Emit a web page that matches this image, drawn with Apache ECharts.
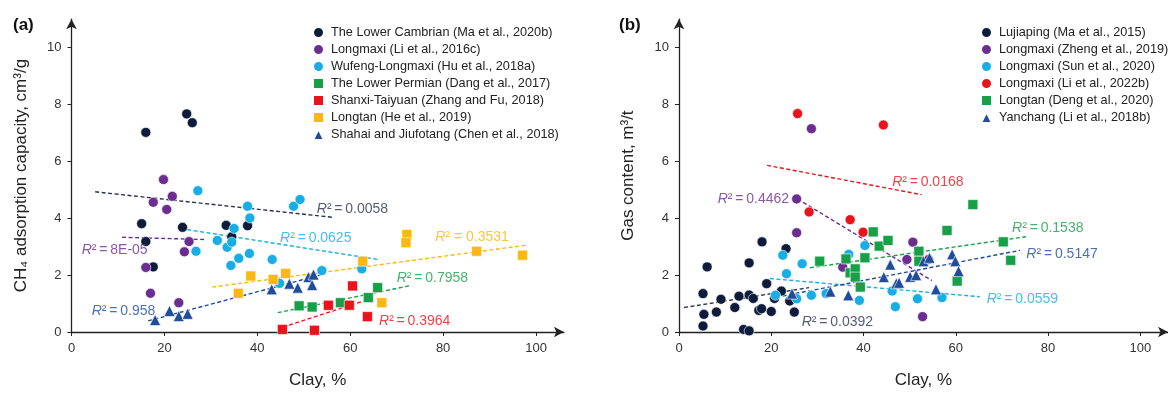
<!DOCTYPE html>
<html><head><meta charset="utf-8">
<script src="https://cdn.jsdelivr.net/npm/echarts@6/dist/echarts.min.js"></script>
<style>html,body{margin:0;padding:0;background:#fff}#c{width:1168px;height:394px}</style>
</head><body><div id="c"></div>
<script>
// ---------- Panel (a) data ----------
const lowerCambrian = [[16.0,7.02],[24.8,7.67],[26.0,7.36],[15.1,3.81],[16.0,3.18],[17.6,2.29],[23.9,3.68],[33.3,3.75],[34.5,3.35],[37.9,3.74]];
const longmaxiLi2016 = [[19.8,5.36],[21.7,4.77],[17.6,4.56],[20.5,4.31],[25.3,3.18],[24.3,2.82],[16.0,2.27],[17.0,1.36],[23.1,1.03]];
const wufengLongmaxi = [[27.2,4.97],[37.9,4.42],[38.4,4.01],[35.0,3.64],[31.4,3.22],[33.5,2.98],[34.5,3.16],[26.8,2.84],[38.3,2.76],[36.0,2.59],[34.3,2.34],[43.2,2.55],[44.8,1.71],[47.8,4.42],[49.2,4.66],[53.9,2.16],[62.5,2.22]];
const lowerPermian = [[49.0,0.92],[51.8,0.88],[57.9,1.03],[63.9,1.21],[65.9,1.56]];
const shanxiTaiyuan = [[45.4,0.09],[52.3,0.06],[55.3,0.94],[59.8,0.94],[60.5,1.62],[63.7,0.54]];
const longtanHe = [[35.9,1.36],[38.6,1.97],[43.4,1.85],[46.1,2.06],[62.7,2.49],[66.8,1.03],[72.2,3.43],[72.0,3.14],[87.2,2.84],[97.1,2.70]];
const shahai = [[18.0,0.42],[21.1,0.74],[23.1,0.56],[25.0,0.64],[43.1,1.50],[46.9,1.70],[48.7,1.56],[51.0,1.93],[51.8,1.65],[52.1,2.02]];

const trendA = {
  lowerCambrian: [[5.1,4.93],[56.4,4.03]],
  longmaxiLi2016: [[10.9,3.33],[29.1,3.25]],
  wufengLongmaxi: [[24.9,3.60],[66.0,2.55]],
  lowerPermian: [[44.4,0.68],[73.2,1.64]],
  shanxiTaiyuan: [[45.5,0.17],[65.2,1.21]],
  longtanHe: [[30.3,1.58],[97.8,3.05]],
  shahai: [[16.5,0.39],[54.6,2.05]]
};
// R² labels: [x, y, text]
const r2A = {
  lowerCambrian: [52.8,4.31,'\u2009=\u20090.0058'],
  longmaxiLi2016: [2.2,2.87,'\u2009=\u20098E-05'],
  wufengLongmaxi: [44.9,3.31,'\u2009=\u20090.0625'],
  lowerPermian: [70.0,1.91,'\u2009=\u20090.7958'],
  shanxiTaiyuan: [66.2,0.39,'\u2009=\u20090.3964'],
  longtanHe: [78.3,3.35,' = 0.3531'],
  shahai: [4.35,0.74,'\u2009=\u20090.958']
};

// ---------- Panel (b) data ----------
const lujiaping = [[5.2,1.35],[6.1,2.29],[5.4,0.62],[5.2,0.21],[8.1,0.70],[9.1,1.15],[12.1,0.86],[13.0,1.26],[14.0,0.09],[15.2,0.04],[15.2,2.43],[15.2,1.30],[16.1,1.18],[17.3,0.76],[17.9,0.82],[18.0,3.17],[19.0,1.70],[20.0,0.72],[20.7,1.18],[22.2,1.44],[23.2,2.93],[24.0,1.09],[25.0,0.70]];
const longmaxiZheng = [[25.5,4.68],[25.5,3.49],[35.5,2.28],[28.7,7.15],[50.7,3.16],[49.4,2.55],[54.1,2.55],[52.8,0.54]];
const longmaxiSun = [[22.5,2.70],[23.3,2.05],[20.9,1.29],[25.5,1.17],[26.7,2.40],[28.7,1.29],[31.9,1.35],[36.8,2.73],[39.1,1.11],[40.3,3.04],[46.2,1.44],[46.9,0.89],[51.7,1.17],[57.0,1.21]];
const longmaxiLi2022 = [[25.7,7.68],[44.3,7.28],[28.2,4.22],[37.1,3.95],[39.9,3.51]];
const longtanDeng = [[30.5,2.49],[36.2,2.57],[37.1,2.08],[38.2,2.22],[38.2,1.93],[39.3,1.58],[40.3,2.61],[42.1,3.52],[43.4,3.02],[45.3,3.22],[63.7,4.48],[58.1,3.57],[70.3,3.17],[71.9,2.52],[52.0,2.84],[52.0,2.49],[60.3,1.79]];
const yanchang = [[24.5,1.35],[32.8,1.42],[36.7,1.29],[44.4,1.93],[45.8,2.37],[47.1,1.71],[47.7,1.73],[50.1,1.94],[51.4,2.00],[53.0,2.49],[54.3,2.61],[55.7,1.50],[59.2,2.73],[59.9,2.49],[60.6,2.14]];

const trendB = {
  lujiaping: [[1.1,0.86],[28.2,1.56]],
  longmaxiZheng: [[25.7,4.68],[54.8,1.81]],
  longmaxiSun: [[19.7,1.88],[65.2,1.24]],
  longmaxiLi2022: [[19.1,5.86],[52.6,4.83]],
  longtanDeng: [[28.4,2.26],[75.2,3.35]],
  yanchang: [[19.7,1.18],[73.9,2.87]]
};
const r2B = {
  lujiaping: [26.6,0.36,'\u2009=\u20090.0392'],
  longmaxiZheng: [8.4,4.66,'\u2009=\u20090.4462'],
  longmaxiSun: [66.7,1.17,'\u2009=\u20090.0559'],
  longmaxiLi2022: [46.2,5.26,'\u2009=\u20090.0168'],
  longtanDeng: [72.2,3.66,'\u2009=\u20090.1538'],
  yanchang: [75.3,2.75,'\u2009=\u20090.5147']
};

const xTicks = [0,20,40,60,80,100];
const yTicks = [0,2,4,6,8,10];

// ---------- series definitions ----------
const seriesA = [
  {key:'lowerCambrian', name:'The Lower Cambrian (Ma et al., 2020b)', data:lowerCambrian, color:'#0e1c3b', line:'#2a3350', symbol:'circle'},
  {key:'longmaxiLi2016', name:'Longmaxi (Li et al., 2016c)', data:longmaxiLi2016, color:'#6b2d90', line:'#6b2d90', symbol:'circle'},
  {key:'wufengLongmaxi', name:'Wufeng-Longmaxi (Hu et al., 2018a)', data:wufengLongmaxi, color:'#19ade5', line:'#19ade5', symbol:'circle'},
  {key:'lowerPermian', name:'The Lower Permian (Dang et al., 2017)', data:lowerPermian, color:'#18a048', line:'#18a048', symbol:'rect'},
  {key:'shanxiTaiyuan', name:'Shanxi-Taiyuan (Zhang and Fu, 2018)', data:shanxiTaiyuan, color:'#e8131b', line:'#e8131b', symbol:'rect'},
  {key:'longtanHe', name:'Longtan (He et al., 2019)', data:longtanHe, color:'#fbb812', line:'#fbb812', symbol:'rect'},
  {key:'shahai', name:'Shahai and Jiufotang (Chen et al., 2018)', data:shahai, color:'#1f4c9b', line:'#1f4c9b', symbol:'triangle'}
];
const seriesB = [
  {key:'lujiaping', name:'Lujiaping (Ma et al., 2015)', data:lujiaping, color:'#0e1c3b', line:'#2a3350', symbol:'circle'},
  {key:'longmaxiZheng', name:'Longmaxi (Zheng et al., 2019)', data:longmaxiZheng, color:'#6b2d90', line:'#6b2d90', symbol:'circle'},
  {key:'longmaxiSun', name:'Longmaxi (Sun et al., 2020)', data:longmaxiSun, color:'#19ade5', line:'#19ade5', symbol:'circle'},
  {key:'longmaxiLi2022', name:'Longmaxi (Li et al., 2022b)', data:longmaxiLi2022, color:'#e8131b', line:'#e8131b', symbol:'circle'},
  {key:'longtanDeng', name:'Longtan (Deng et al., 2020)', data:longtanDeng, color:'#18a048', line:'#18a048', symbol:'rect'},
  {key:'yanchang', name:'Yanchang (Li et al., 2018b)', data:yanchang, color:'#1f4c9b', line:'#1f4c9b', symbol:'triangle'}
];

const FONT = 'Liberation Sans, Arial, sans-serif';
const series = [];
function build(defs, trends, r2s, idx){
  defs.forEach(d => {
    series.push({
      type:'line', xAxisIndex:idx, yAxisIndex:idx, data:trends[d.key], symbol:'none', silent:true,
      lineStyle:{color:d.line, width:1.4, type:[4,2.5]}, z:1
    });
  });
  defs.forEach(d => {
    series.push({
      type:'scatter', name:d.name, xAxisIndex:idx, yAxisIndex:idx, data:d.data,
      symbol:d.symbol, symbolSize: d.symbol==='triangle' ? 11 : 10,
      itemStyle:{color:d.color, borderColor:'#ffffff', borderWidth:0.6, opacity:1}, z:3
    });
  });
  defs.forEach(d => {
    const r = r2s[d.key];
    series.push({
      type:'scatter', xAxisIndex:idx, yAxisIndex:idx, data:[[r[0], r[1]]], symbolSize:0, silent:true, z:4,
      label:{show:true, position:'right', distance:0,
        formatter:'{i|R}{n|\u00b2' + r[2] + '}',
        rich:{ i:{fontStyle:'italic', fontSize:14, color:d.line, fontFamily:FONT},
               n:{fontSize:14, color:d.line, fontFamily:FONT} } }
    });
  });
}
build(seriesA, trendA, r2A, 0);
build(seriesB, trendB, r2B, 1);

function xAxisDef(idx){
  return {
    type:'value', gridIndex:idx, min:0, max:106, name:'Clay, %', nameLocation:'middle', nameGap:40,
    nameTextStyle:{fontSize:17, color:'#222', fontFamily:FONT},
    splitLine:{show:false},
    axisLine:{show:true, onZero:false, symbol:['none','arrow'], symbolSize:[8,10], lineStyle:{color:'#222', width:1.3}},
    axisTick:{show:true, length:4, customValues:xTicks, lineStyle:{color:'#222'}},
    axisLabel:{customValues:xTicks, fontSize:13, color:'#333', margin:10, fontFamily:FONT}
  };
}
function yAxisDef(idx, name){
  return {
    type:'value', gridIndex:idx, min:0, max:11, name:name, nameLocation:'middle', nameGap:42,
    nameTextStyle:{fontSize:17, color:'#222', fontFamily:FONT},
    splitLine:{show:false},
    axisLine:{show:true, onZero:false, symbol:['none','arrow'], symbolSize:[8,10], lineStyle:{color:'#222', width:1.3}},
    axisTick:{show:true, length:4, customValues:yTicks, lineStyle:{color:'#222'}},
    axisLabel:{customValues:yTicks, fontSize:13, color:'#333', margin:10, fontFamily:FONT}
  };
}

const option = {
  animation:false,
  backgroundColor:'#fff',
  title:[
    {text:'(a)', left:8, top:12, textStyle:{fontSize:17, fontWeight:'bold', color:'#111', fontFamily:FONT}},
    {text:'(b)', left:614, top:12, textStyle:{fontSize:17, fontWeight:'bold', color:'#111', fontFamily:FONT}}
  ],
  grid:[
    {left:71.5, top:19.2, width:492.4, height:313.5},
    {left:679, top:19.2, width:495.6, height:313.5}
  ],
  xAxis:[xAxisDef(0), xAxisDef(1)],
  yAxis:[yAxisDef(0,'CH\u2084 adsorption capacity, cm\u00b3/g'), yAxisDef(1,'Gas content, m\u00b3/t')],
  legend:[
    {orient:'vertical', left:312, top:26, padding:0, itemWidth:11, itemHeight:11, itemGap:4, selectedMode:false,
     data:seriesA.map(d=>d.name), textStyle:{fontSize:12.7, color:'#222', fontFamily:FONT, padding:[0,0,0,2]}},
    {orient:'vertical', left:980, top:26, padding:0, itemWidth:11, itemHeight:11, itemGap:4, selectedMode:false,
     data:seriesB.map(d=>d.name), textStyle:{fontSize:12.7, color:'#222', fontFamily:FONT, padding:[0,0,0,2]}}
  ],
  series:series
};
const chart = echarts.init(document.getElementById('c'), null, {renderer:'canvas'});
chart.setOption(option);
</script></body></html>
